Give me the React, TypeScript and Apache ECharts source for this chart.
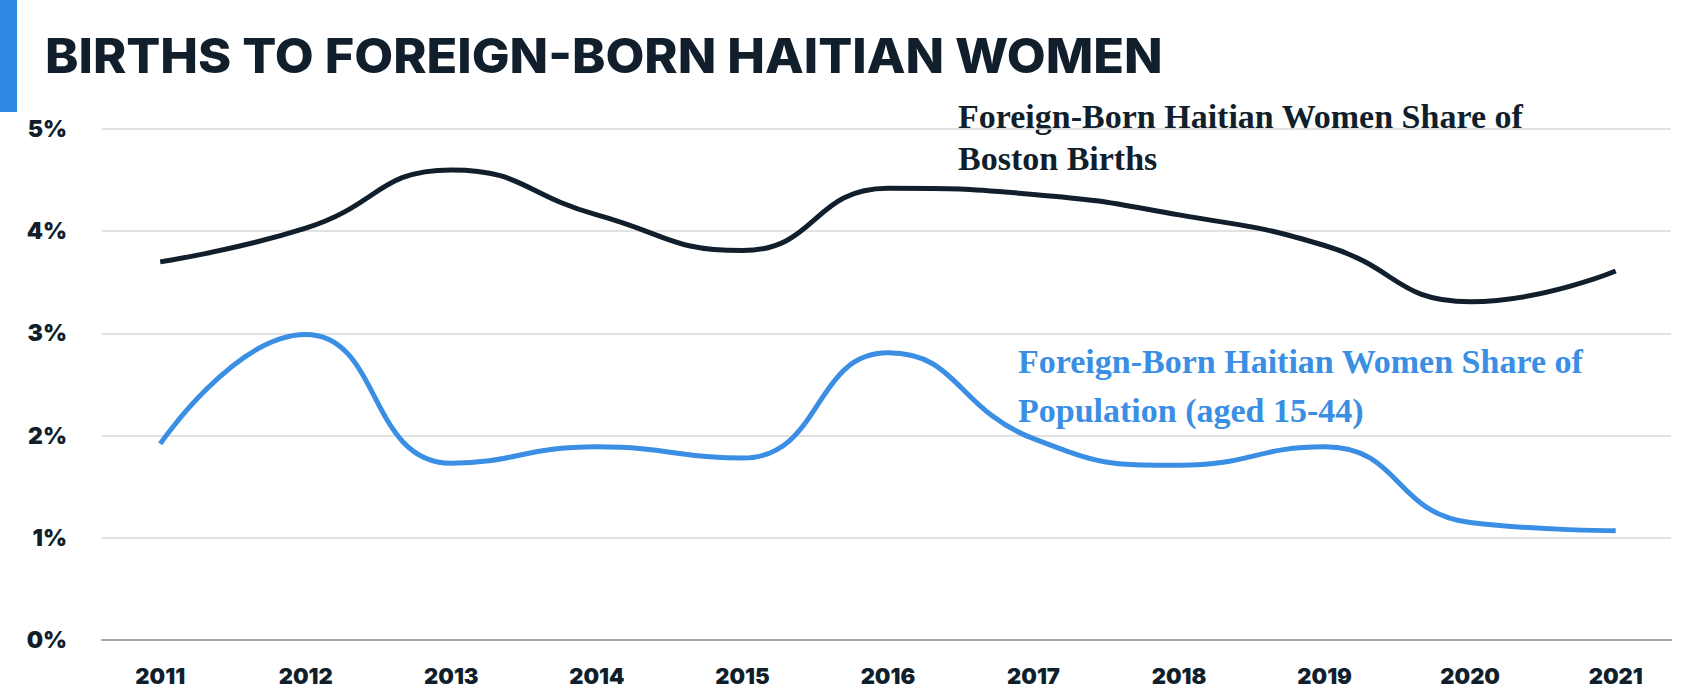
import React, { useEffect, useRef } from "react";
import * as echarts from "echarts";

const years = [2011, 2012, 2013, 2014, 2015, 2016, 2017, 2018, 2019, 2020, 2021];
const birthsShare = [3.70, 4.03, 4.60, 4.16, 3.81, 4.42, 4.36, 4.16, 3.86, 3.31, 3.61];
const populationShare = [1.92, 2.99, 1.73, 1.89, 1.78, 2.81, 1.97, 1.71, 1.89, 1.15, 1.07];
const yTicks = [0, 1, 2, 3, 4, 5];

const titleText = "BIRTHS TO FOREIGN-BORN HAITIAN WOMEN";
const birthsLabel = ["Foreign-Born Haitian Women Share of", "Boston Births"];
const popLabel = ["Foreign-Born Haitian Women Share of", "Population (aged 15-44)"];

const DARK = "#111f2c";
const BLUE = "#3a8ee3";

export default function App() {
  const ref = useRef<HTMLDivElement>(null);
  useEffect(() => {
    if (!ref.current) return;
    const chart = echarts.init(ref.current, null, { renderer: "svg" });
    const sansBold = "Inter, 'Noto Sans', sans-serif";
    const serif = "'Liberation Serif', 'DejaVu Serif', serif";
    chart.setOption({
      animation: false,
      backgroundColor: "#ffffff",
      grid: { left: 102, right: 19, top: 129, bottom: 48, containLabel: false },
      xAxis: {
        type: "value",
        min: 2010.6,
        max: 2021.38,
        axisLine: { show: true, lineStyle: { color: "#a6a6a6", width: 2 } },
        axisTick: { show: false },
        splitLine: { show: false },
        axisLabel: {
          customValues: years,
          formatter: (v: number) => String(v),
          color: DARK,
          fontFamily: sansBold,
          fontWeight: 900,
          fontSize: 22,
          margin: 25,
        },
      },
      yAxis: {
        type: "value",
        min: yTicks[0],
        max: yTicks[yTicks.length - 1],
        interval: 1,
        axisLine: { show: false },
        axisTick: { show: false },
        splitLine: { show: true, lineStyle: { color: "#d9d9d9", width: 1.5 } },
        axisLabel: {
          formatter: "{value}%",
          color: DARK,
          fontFamily: sansBold,
          fontWeight: 900,
          fontSize: 23,
          margin: 35,
        },
      },
      series: [
        {
          type: "line",
          name: "Births",
          data: years.map((y, i) => [y, birthsShare[i]]),
          smooth: 0.5,
          showSymbol: false,
          lineStyle: { color: DARK, width: 5 },
          itemStyle: { color: DARK },
        },
        {
          type: "line",
          name: "Population",
          data: years.map((y, i) => [y, populationShare[i]]),
          smooth: 0.5,
          showSymbol: false,
          lineStyle: { color: BLUE, width: 5 },
          itemStyle: { color: BLUE },
        },
      ],
      graphic: [
        { type: "rect", shape: { x: 0, y: 0, width: 17, height: 112 }, style: { fill: "#2f89e2" } },
        {
          type: "text",
          x: 45,
          y: 55,
          scaleX: 1.05,
          style: {
            text: titleText,
            fill: DARK,
            font: `800 48px ${sansBold}`,
            textVerticalAlign: "middle",
          },
        },
        {
          type: "text",
          x: 958,
          y: 116,
          style: { text: birthsLabel[0], fill: DARK, font: `bold 34px ${serif}`, textVerticalAlign: "middle" },
        },
        {
          type: "text",
          x: 958,
          y: 158,
          style: { text: birthsLabel[1], fill: DARK, font: `bold 34px ${serif}`, textVerticalAlign: "middle" },
        },
        {
          type: "text",
          x: 1018,
          y: 361,
          style: { text: popLabel[0], fill: BLUE, font: `bold 34px ${serif}`, textVerticalAlign: "middle" },
        },
        {
          type: "text",
          x: 1018,
          y: 410,
          style: { text: popLabel[1], fill: BLUE, font: `bold 34px ${serif}`, textVerticalAlign: "middle" },
        },
      ],
    });
    return () => chart.dispose();
  }, []);
  return (
    <div
      ref={ref}
      style={{ position: "fixed", left: 0, top: 0, width: 1690, height: 688, background: "#fff" }}
    />
  );
}
